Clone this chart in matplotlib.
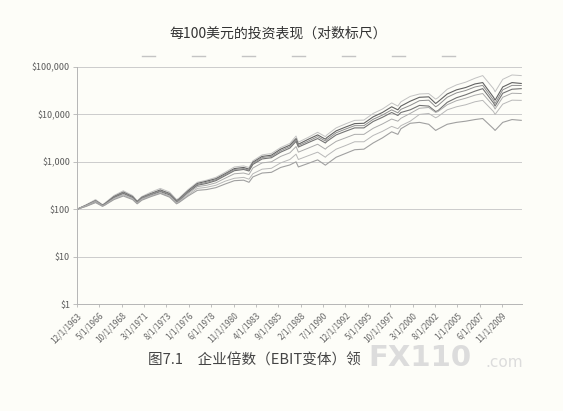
import matplotlib
matplotlib.use("Agg")
import matplotlib.pyplot as plt
from matplotlib.lines import Line2D
import pandas as pd

plt.rcParams['font.family'] = ['Noto Sans CJK SC', 'DejaVu Sans']

TITLE = "每100美元的投资表现（对数标尺）"
CAPTION = "图7.1　企业倍数（EBIT变体）领"
WATERMARK = "FX110"
WATERMARK_SUFFIX = ".com"

dates = ["1963-12", "1964-12", "1965-12", "1966-09", "1966-12", "1967-12", "1968-12",
         "1969-12", "1970-06", "1970-12", "1971-12", "1972-12", "1973-12", "1974-09",
         "1974-12", "1975-12", "1976-12", "1977-12", "1978-12", "1979-12", "1980-12",
         "1981-12", "1982-07", "1982-12", "1983-12", "1984-12", "1985-12", "1986-12",
         "1987-08", "1987-11", "1988-12", "1989-12", "1990-10", "1990-12", "1991-12",
         "1992-12", "1993-12", "1994-12", "1995-12", "1996-12", "1997-12", "1998-08",
         "1998-12", "1999-12", "2000-12", "2001-12", "2002-09", "2002-12", "2003-12",
         "2004-12", "2005-12", "2006-12", "2007-10", "2008-12", "2009-02", "2009-12",
         "2010-12", "2011-12"]

series_a = [100, 125, 160, 125, 135, 195, 245, 195, 150, 185, 230, 275, 230, 160,
            170, 260, 370, 410, 470, 600, 780, 820, 760, 1050, 1400, 1500, 2000, 2450,
            3500, 2600, 3300, 4200, 3400, 3700, 5200, 6300, 7500, 7600, 10500, 13000,
            17500, 15000, 18500, 24000, 27000, 27500, 21000, 22500, 34000, 42000, 48000,
            58000, 66000, 35000, 30000, 55000, 68000, 66000]
series_b = [100, 122, 152, 122, 130, 185, 230, 185, 145, 178, 215, 255, 215, 152,
            162, 245, 350, 390, 440, 560, 720, 760, 700, 980, 1300, 1380, 1850, 2250,
            3100, 2350, 3000, 3700, 3000, 3250, 4500, 5400, 6400, 6500, 8900, 11000,
            14500, 12500, 15000, 19000, 23000, 23500, 17000, 18500, 27000, 33000, 37000,
            44000, 47000, 23000, 20000, 38000, 47000, 45000]
series_c = [100, 120, 150, 120, 128, 180, 225, 180, 142, 175, 210, 245, 210, 148,
            158, 235, 335, 370, 420, 540, 690, 720, 670, 930, 1230, 1300, 1720, 2100,
            2900, 2200, 2750, 3400, 2750, 2950, 4100, 4900, 5800, 5800, 7900, 9700,
            12500, 10800, 12800, 15500, 19500, 20000, 14500, 15500, 23000, 28500, 32000,
            38000, 41000, 20000, 17000, 33000, 41000, 40800]
series_d = [100, 118, 145, 118, 126, 175, 215, 175, 138, 168, 200, 235, 200, 142,
            150, 225, 320, 350, 400, 510, 650, 690, 640, 880, 1150, 1220, 1600, 1950,
            2700, 2050, 2550, 3100, 2500, 2700, 3700, 4400, 5200, 5200, 7100, 8700,
            11000, 9500, 11000, 12500, 15500, 15000, 11500, 12000, 18000, 22500, 26000,
            31000, 35000, 17500, 15000, 28000, 34000, 35000]
series_e = [100, 120, 148, 119, 125, 170, 205, 170, 135, 165, 195, 225, 190, 138,
            145, 215, 300, 320, 360, 450, 560, 580, 540, 740, 950, 1000, 1300, 1550,
            2100, 1600, 1950, 2350, 1850, 2000, 2700, 3200, 3800, 3800, 5100, 6300,
            8000, 7200, 8300, 10500, 13500, 14000, 11000, 11500, 16000, 19500, 22000,
            25500, 27600, 15000, 13000, 23000, 28000, 27600]
series_f = [100, 117, 140, 115, 122, 165, 200, 165, 132, 160, 190, 220, 185, 135,
            140, 200, 275, 290, 320, 390, 450, 470, 430, 560, 700, 730, 950, 1120,
            1450, 1120, 1350, 1600, 1250, 1350, 1850, 2200, 2650, 2650, 3600, 4400,
            5600, 5000, 5800, 7200, 10000, 10500, 8500, 9000, 12500, 14500, 16000,
            18500, 19800, 11500, 10000, 16500, 20000, 19800]
series_g = [100, 115, 138, 116, 122, 160, 190, 160, 130, 155, 185, 215, 180, 130,
            138, 190, 250, 260, 285, 340, 400, 410, 370, 480, 580, 600, 760, 860,
            1000, 780, 930, 1100, 850, 900, 1250, 1500, 1800, 1850, 2500, 3200,
            4300, 3800, 5000, 6500, 6800, 6200, 4600, 4900, 6200, 6800, 7200,
            7800, 8200, 5000, 4600, 6800, 7800, 7500]

tick_labels = ["12/1/1963", "5/1/1966", "10/1/1968", "3/1/1971", "8/1/1973", "1/1/1976",
               "6/1/1978", "11/1/1980", "4/1/1983", "9/1/1985", "2/1/1988", "7/1/1990",
               "12/1/1992", "5/1/1995", "10/1/1997", "3/1/2000", "8/1/2002", "1/1/2005",
               "6/1/2007", "11/1/2009"]
y_ticks = [1, 10, 100, 1000, 10000, 100000]
y_tick_labels = ["$1", "$10", "$100", "$1,000", "$10,000", "$100,000"]

all_series = [series_a, series_b, series_c, series_d, series_e, series_f, series_g]
colors = ["#c2c2c2", "#626262", "#8f8f8f", "#747474", "#ababab", "#b8b8b8", "#a0a0a0"]
widths = [0.7, 0.8, 0.7, 0.8, 0.7, 0.7, 0.8]

bg = "#fdfdf8"
fig = plt.figure(figsize=(5.63, 4.11), dpi=100, facecolor=bg)
ax = fig.add_axes([0.1368, 0.2603, 0.7904, 0.5766])
ax.set_facecolor(bg)

x = pd.to_datetime(dates, format="%Y-%m")
for s, c, w in zip(all_series, colors, widths):
    ax.plot(x, s, color=c, lw=w)

ax.set_yscale("log")
ax.set_ylim(1, 100000)
ax.set_yticks(y_ticks)
ax.set_yticklabels(y_tick_labels)
ax.yaxis.set_minor_locator(matplotlib.ticker.NullLocator())
ax.grid(axis="y", color="#cccccc", lw=0.7)
ax.set_axisbelow(True)

tick_pos = pd.to_datetime(tick_labels, format="%m/%d/%Y")
ax.set_xticks(tick_pos)
ax.set_xticklabels(tick_labels, rotation=45, ha="right", rotation_mode="anchor")
ax.set_xlim(pd.Timestamp("1963-12-01"), pd.Timestamp("2011-12-31"))

for sp in ["top", "right"]:
    ax.spines[sp].set_visible(False)
for sp in ["left", "bottom"]:
    ax.spines[sp].set_color("#b5b5b5")
    ax.spines[sp].set_linewidth(0.7)
ax.tick_params(axis="y", labelsize=6.5, colors="#b5b5b5", labelcolor="#5a5a5a", length=3, width=0.6, pad=2)
ax.tick_params(axis="x", labelsize=6, colors="#b5b5b5", labelcolor="#666666", length=2, width=0.6, pad=3)

handles = [Line2D([0], [0], color="#c4c4c4", lw=1.0) for _ in all_series]
fig.legend(handles, [""] * len(handles), loc="center", bbox_to_anchor=(0.53, 0.861),
           ncol=7, frameon=False, handlelength=1.1, handletextpad=0.0,
           columnspacing=3.4, fontsize=8)

fig.text(0.262, 0.124, CAPTION, ha="left", va="center", fontsize=10.5, color="#444444")
fig.text(0.494, 0.918, TITLE, ha="center", va="center", fontsize=10, color="#333333")
fig.text(0.655, 0.130, WATERMARK, ha="left", va="center", fontsize=21, color="#dcdcdc",
         fontweight="bold", family=["DejaVu Sans"])
fig.text(0.862, 0.118, WATERMARK_SUFFIX, ha="left", va="center", fontsize=11, color="#dcdcdc",
         family=["DejaVu Sans"])

fig.savefig("out.png", dpi=100, facecolor=bg)
